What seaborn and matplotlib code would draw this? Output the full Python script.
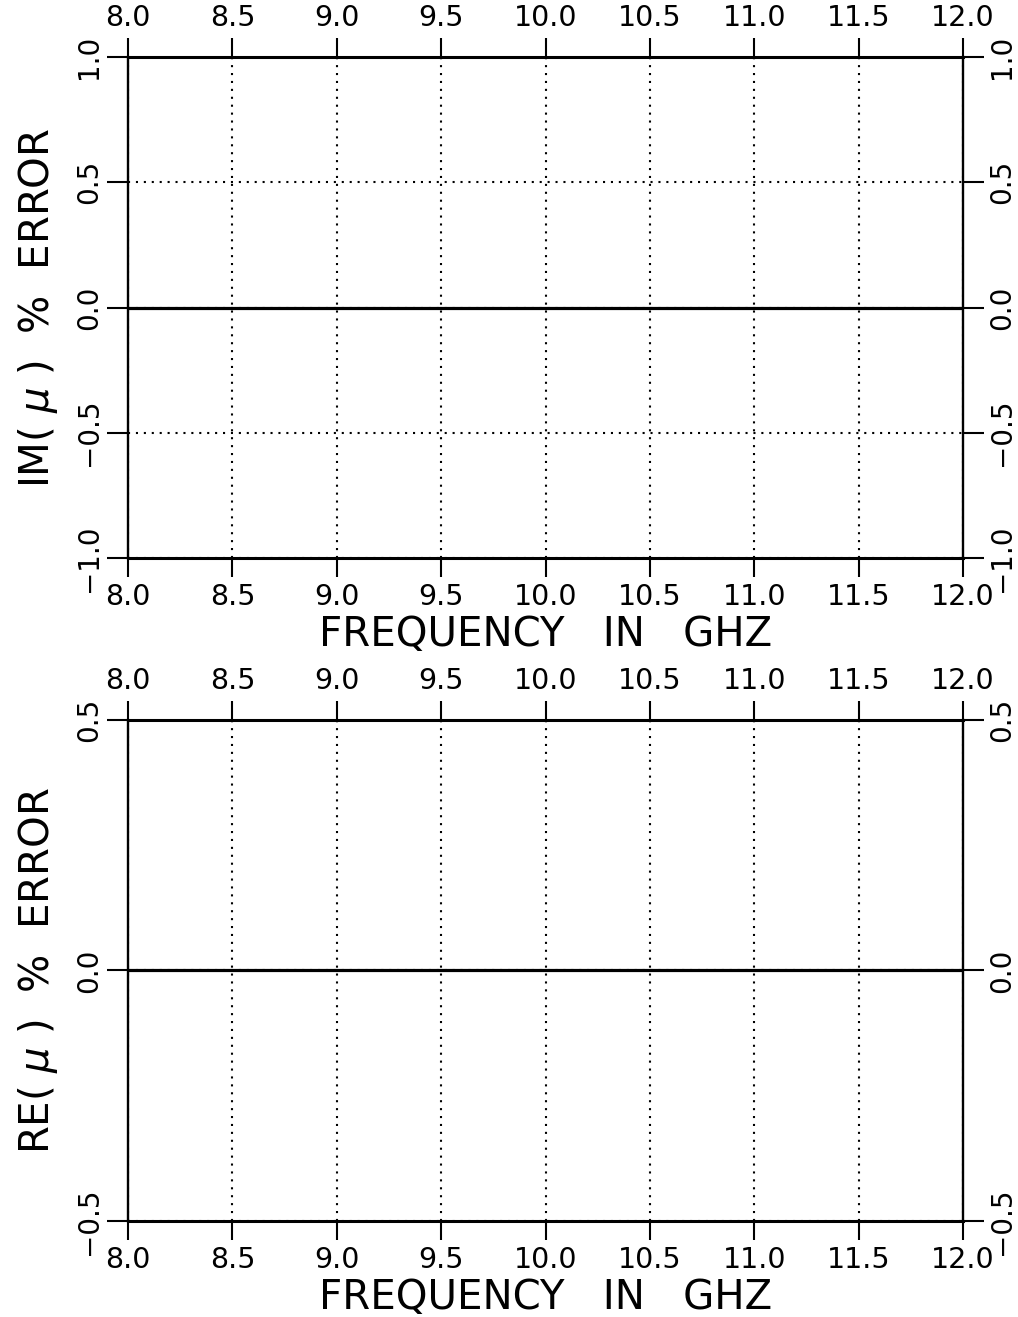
import matplotlib
matplotlib.use("Agg")
import matplotlib.pyplot as plt
from matplotlib.ticker import FuncFormatter
import pandas as pd
import seaborn as sns

# Frequency sweep and the measured percentage error of the permeability
freq_ghz = [8.0, 8.5, 9.0, 9.5, 10.0, 10.5, 11.0, 11.5, 12.0]
im_mu_error = [0.0, 0.0, 0.0, 0.0, 0.0, 0.0, 0.0, 0.0, 0.0]
re_mu_error = [0.0, 0.0, 0.0, 0.0, 0.0, 0.0, 0.0, 0.0, 0.0]

x_ticks = [8.0, 8.5, 9.0, 9.5, 10.0, 10.5, 11.0, 11.5, 12.0]
im_ticks = [-1.0, -0.5, 0.0, 0.5, 1.0]
re_ticks = [-0.5, 0.0, 0.5]

x_label = "FREQUENCY   IN   GHZ"
im_label = "IM( $\\mu$ )  %  ERROR"
re_label = "RE( $\\mu$ )  %  ERROR"

sns.set_theme(style="ticks")
plt.rcParams["font.family"] = ["DejaVu Sans"]
plt.rcParams["axes.edgecolor"] = "black"
plt.rcParams["xtick.color"] = "black"
plt.rcParams["ytick.color"] = "black"
plt.rcParams["text.color"] = "black"
plt.rcParams["axes.labelcolor"] = "black"
plt.rcParams["mathtext.fontset"] = "dejavusans"

W, H = 1018, 1317
fig = plt.figure(figsize=(W / 100, H / 100), dpi=100)

left = 128 / W
width = (963 - 128) / W
ax_h = (558 - 57) / H
ax_top = fig.add_axes([left, 1 - 558 / H, width, ax_h])
ax_bot = fig.add_axes([left, 1 - 1221 / H, width, ax_h])


def fmt(v, _pos):
    s = f"{v:.1f}"
    if s == "-0.0":
        s = "0.0"
    return s.replace("-", "\u2212")


def style_panel(ax, values, yticks, ylabel):
    df = pd.DataFrame({"freq": freq_ghz, "err": values})
    sns.lineplot(data=df, x="freq", y="err", ax=ax, color="black",
                 linewidth=2.3, zorder=3)
    ax.set_xlim(freq_ghz[0], freq_ghz[-1])
    ax.set_ylim(yticks[0], yticks[-1])
    ax.set_xticks(x_ticks)
    ax.set_yticks(yticks)
    ax.xaxis.set_major_formatter(FuncFormatter(fmt))
    ax.yaxis.set_major_formatter(FuncFormatter(fmt))

    for side in ("top", "bottom"):
        ax.spines[side].set_visible(True)
        ax.spines[side].set_linewidth(2.2)
    for side in ("left", "right"):
        ax.spines[side].set_visible(True)
        ax.spines[side].set_linewidth(1.7)

    ax.grid(True, color="black", linestyle=(0, (1, 2.8)), linewidth=1.5)

    ax.tick_params(axis="x", which="major", direction="out", length=14,
                   width=1.5, top=True, bottom=True, labeltop=True,
                   labelbottom=True, labelsize=20.5, pad=4)
    ax.tick_params(axis="y", which="major", direction="out", length=15,
                   width=1.5, left=True, right=True, labelleft=True,
                   labelright=True, labelsize=20, pad=3, labelrotation=90)
    for lab in ax.get_yticklabels():
        lab.set_va("center")

    ax.set_xlabel(x_label, fontsize=29)
    ax.set_ylabel(ylabel, fontsize=29)
    ax.xaxis.set_label_coords(0.5, -0.114)
    ax.yaxis.set_label_coords(-0.081, 0.5)
    ax.set_facecolor("white")


style_panel(ax_top, im_mu_error, im_ticks, im_label)
style_panel(ax_bot, re_mu_error, re_ticks, re_label)

fig.patch.set_facecolor("white")
fig.savefig("out.png", dpi=100, facecolor="white")
